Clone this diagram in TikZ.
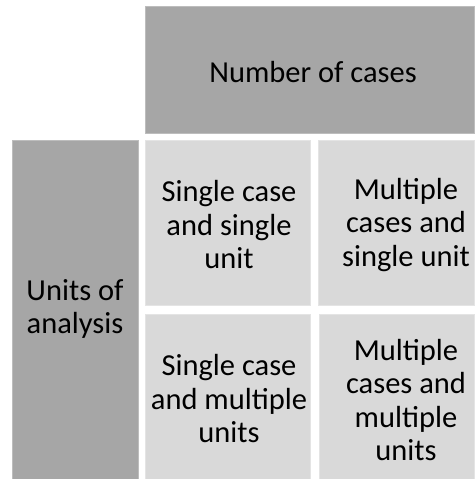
\documentclass[tikz,border=0pt]{standalone}
\usepackage{fontspec}
\setmainfont{Carlito}
\begin{document}
\begin{tikzpicture}[x=1pt,y=-1pt,
  darkbox/.style={fill=boxdark,draw=edgedark,line width=0.8pt},
  lightbox/.style={fill=boxlight,draw=edgelight,line width=0.8pt},
  label/.style={align=center,font=\fontsize{30.5}{33.5}\selectfont,text=black,inner sep=0pt}]
\definecolor{boxdark}{HTML}{A6A6A6}
\definecolor{edgedark}{HTML}{BDBDBD}
\definecolor{boxlight}{HTML}{D9D9D9}
\definecolor{edgelight}{HTML}{E4E4E4}
\useasboundingbox (0,0) rectangle (474,479);
% header and side bands
\path[darkbox] (145,6) rectangle (474.4,133);
\path[darkbox] (12,140) rectangle (138,479.4);
% the four cells
\path[lightbox] (145,140) rectangle (310,305);
\path[lightbox] (318,140) rectangle (474.4,305);
\path[lightbox] (145,314) rectangle (310,479.4);
\path[lightbox] (319,314) rectangle (474.4,479.4);
% labels
\node[label] (num) at (313,72) {Number of cases};
\node[label] (units) at (75,309) {Units of\\analysis};
\node[label] (c11) at (229,225) {Single case\\and single\\unit};
\node[label] (c12) at (406,225) {Multiple\\cases and\\single unit};
\node[label] (c21) at (229,399) {Single case\\and multiple\\units};
\node[label] (c22) at (406,400) {Multiple\\cases and\\multiple\\units};
\end{tikzpicture}
\end{document}
